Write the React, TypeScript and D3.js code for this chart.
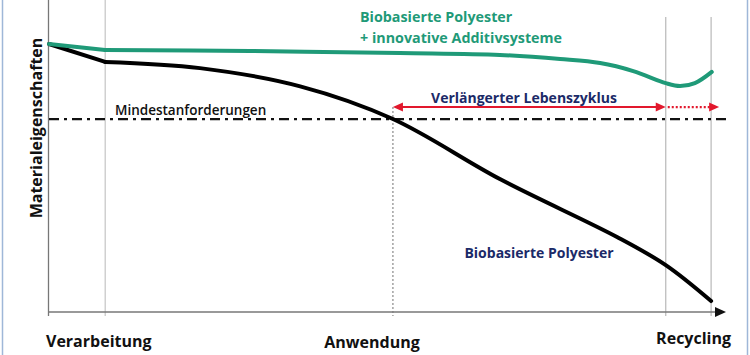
import React from "react";
import * as d3 from "d3";

const W = 750;
const H = 355;

// x in arbitrary lifecycle units (0..100), y in % of initial material properties
const stageLabels = ["Verarbeitung", "Anwendung", "Recycling"];
const stageX = [8.3, 50.8, 91.1, 97.8];
const threshold = 72;

const blackX = [0, 8.3, 22.3, 37.1, 50.8, 66.6, 83.9, 91.1, 97.8];
const blackY = [100, 93.3, 91.0, 84.2, 72.0, 49.6, 28.0, 17.5, 4.1];

const greenX = [0, 8.3, 29.7, 51.8, 66.6, 75.5, 81.4, 86.3, 91.1, 93.2, 95.4, 97.9];
const greenY = [100, 97.8, 97.4, 96.6, 95.9, 94.4, 92.9, 89.9, 85.4, 84.3, 85.4, 89.6];

const GREEN = "#1f9a78";
const NAVY = "#1b2a68";
const RED = "#e2182d";
const FONT = "'Open Sans', 'Noto Sans', sans-serif";

export default function App() {
  const x = d3.scaleLinear().domain([0, 100]).range([49, 726]);
  const y = d3.scaleLinear().domain([0, 100]).range([312, 44]);

  const pts = (xs: number[], ys: number[]) => xs.map((v, i) => [v, ys[i]] as [number, number]);
  const lin = d3.line<[number, number]>().x(d => x(d[0])).y(d => y(d[1]));
  const curve = d3.line<[number, number]>().x(d => x(d[0])).y(d => y(d[1])).curve(d3.curveCatmullRom.alpha(0.5));

  const bp = pts(blackX, blackY);
  const gp = pts(greenX, greenY);

  const yT = y(threshold);
  const arrowY = yT - 12;
  const xA = x(stageX[1]);
  const xR = x(stageX[2]);
  const xE = x(stageX[3]) + 8;

  return (
    <svg width={W} height={H} style={{ position: "absolute", left: 0, top: 0, background: "#fff" }} fontFamily={FONT}>
      {/* frame sides */}
      <line x1={2.5} x2={2.5} y1={0} y2={H} stroke="#9fb7d8" strokeWidth={1.5} />
      <line x1={747.5} x2={747.5} y1={0} y2={H} stroke="#9fb7d8" strokeWidth={1.5} />

      {/* vertical stage lines */}
      <line x1={x(stageX[0])} x2={x(stageX[0])} y1={0} y2={316} stroke="#c4c4c4" strokeWidth={1.2} />
      <line x1={xA} x2={xA} y1={arrowY} y2={316} stroke="#8a8a8a" strokeWidth={1.2} strokeDasharray="2,2" />
      <line x1={xR} x2={xR} y1={17} y2={316} stroke="#b8b8b8" strokeWidth={1.2} />
      <line x1={x(stageX[3])} x2={x(stageX[3])} y1={17} y2={316} stroke="#b8b8b8" strokeWidth={1.2} />

      {/* axes */}
      <line x1={48.5} x2={48.5} y1={0} y2={316} stroke="#777" strokeWidth={1.3} />
      <line x1={48} x2={717} y1={312} y2={312} stroke="#777" strokeWidth={1.3} />
      <path d={`M726,312 L715,307 L715,317 Z`} fill="#111" />

      {/* threshold */}
      <line x1={49} x2={727} y1={yT} y2={yT} stroke="#111" strokeWidth={2.2} strokeDasharray="10,5,3,5" />
      <text x={115} y={115} fontSize={13.5} fontWeight={600} fill="#111">Mindestanforderungen</text>

      {/* extended life cycle arrow */}
      <line x1={xA + 8} x2={xR - 9} y1={arrowY} y2={arrowY} stroke={RED} strokeWidth={2} />
      <path d={`M${xA},${arrowY} L${xA + 10},${arrowY - 4.5} L${xA + 10},${arrowY + 4.5} Z`} fill={RED} />
      <path d={`M${xR},${arrowY} L${xR - 10},${arrowY - 4.5} L${xR - 10},${arrowY + 4.5} Z`} fill={RED} />
      <line x1={xR + 2} x2={xE - 9} y1={arrowY} y2={arrowY} stroke={RED} strokeWidth={2.2} strokeDasharray="2,2" />
      <path d={`M${xE},${arrowY} L${xE - 10},${arrowY - 4.5} L${xE - 10},${arrowY + 4.5} Z`} fill={RED} />
      <text x={524} y={103} fontSize={14} fontWeight={700} fill={NAVY} textAnchor="middle">Verlängerter Lebenszyklus</text>

      {/* curves */}
      <path d={lin(bp.slice(0, 2)) || ""} fill="none" stroke="#000" strokeWidth={4} strokeLinecap="round" />
      <path d={curve(bp.slice(1)) || ""} fill="none" stroke="#000" strokeWidth={4} strokeLinecap="round" strokeLinejoin="round" />
      <path d={lin(gp.slice(0, 2)) || ""} fill="none" stroke={GREEN} strokeWidth={4} strokeLinecap="round" />
      <path d={curve(gp.slice(1)) || ""} fill="none" stroke={GREEN} strokeWidth={4} strokeLinecap="round" strokeLinejoin="round" />

      {/* series labels */}
      <text x={360} y={22} fontSize={14.3} fontWeight={700} fill={GREEN}>Biobasierte Polyester</text>
      <text x={360} y={43} fontSize={14.3} fontWeight={700} fill={GREEN}>+ innovative Additivsysteme</text>
      <text x={539} y={258} fontSize={14} fontWeight={700} fill={NAVY} textAnchor="middle">Biobasierte Polyester</text>

      {/* axis labels */}
      <text transform={`translate(42,128) rotate(-90)`} fontSize={16} fontWeight={700} fill="#111" textAnchor="middle">Materialeigenschaften</text>
      <text x={46} y={347} fontSize={16} fontWeight={700} fill="#111">{stageLabels[0]}</text>
      <text x={372} y={348} fontSize={16} fontWeight={700} fill="#111" textAnchor="middle">{stageLabels[1]}</text>
      <text x={731} y={344} fontSize={16} fontWeight={700} fill="#111" textAnchor="end">{stageLabels[2]}</text>
    </svg>
  );
}
